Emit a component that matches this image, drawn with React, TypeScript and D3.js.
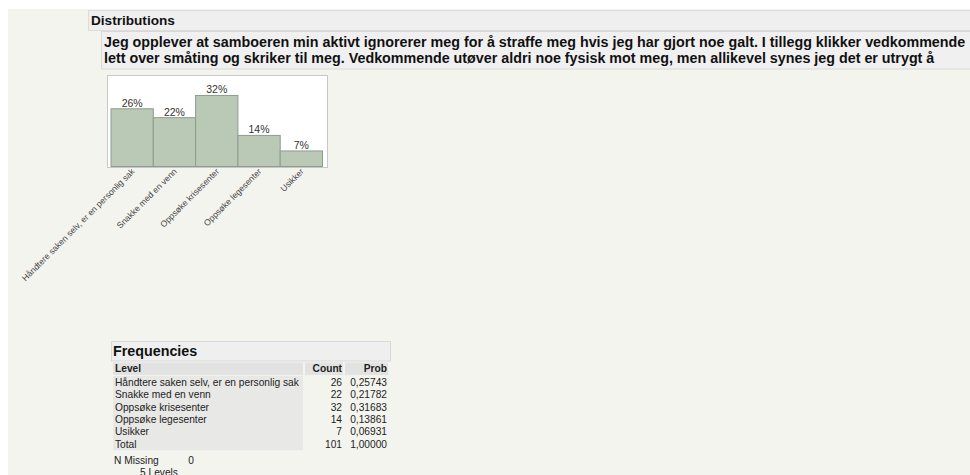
import React, { useEffect, useRef } from 'react';
import * as d3 from 'd3';

const levels = [
  'Håndtere saken selv, er en personlig sak',
  'Snakke med en venn',
  'Oppsøke krisesenter',
  'Oppsøke legesenter',
  'Usikker',
];
const counts = [26, 22, 32, 14, 7];
const probs = ['0,25743', '0,21782', '0,31683', '0,13861', '0,06931'];
const total = 101;

const title = 'Distributions';
const questionLines = [
  'Jeg opplever at samboeren min aktivt ignorerer meg for å straffe meg hvis jeg har gjort noe galt. I tillegg klikker vedkommende',
  'lett over småting og skriker til meg. Vedkommende utøver aldri noe fysisk mot meg, men allikevel synes jeg det er utrygt å',
];

const FONT = '"Liberation Sans", Arial, Helvetica, sans-serif';

const App: React.FC = () => {
  const svgRef = useRef<SVGSVGElement>(null);

  useEffect(() => {
    if (!svgRef.current) return;
    const width = 970;
    const height = 475;
    const svg = d3.select(svgRef.current);
    svg.selectAll('*').remove();

    svg.append('rect').attr('width', width).attr('height', height).attr('fill', '#ffffff');
    // report panel
    svg.append('rect').attr('x', 8).attr('y', 9).attr('width', width - 8).attr('height', height - 9).attr('fill', '#f4f4ef');

    // "Distributions" header bar
    svg.append('rect').attr('x', 88.5).attr('y', 10.5).attr('width', width - 88).attr('height', 20)
      .attr('fill', '#efefef').attr('stroke', '#dcdcdc');
    svg.append('text').attr('x', 91).attr('y', 25).attr('font-family', FONT).attr('font-size', 13.6)
      .attr('font-weight', 'bold').attr('fill', '#111').text(title);

    // question box
    svg.append('rect').attr('x', 101.5).attr('y', 31.5).attr('width', width - 101).attr('height', 37.5)
      .attr('fill', '#f0f0f0').attr('stroke', '#d8d8d8');
    questionLines.forEach((ln, i) => {
      svg.append('text').attr('x', 104).attr('y', 47 + i * 16).attr('font-family', FONT).attr('font-size', 14.3)
        .attr('font-weight', 'bold').attr('fill', '#111').text(ln);
    });

    // bar chart
    const frame = { x: 107, y: 75, w: 220, h: 92 };
    svg.append('rect').attr('x', frame.x + 0.5).attr('y', frame.y + 0.5).attr('width', frame.w).attr('height', frame.h)
      .attr('fill', '#ffffff').attr('stroke', '#c8c8c8');

    const probVals = counts.map(c => c / total);
    const x = d3.scaleBand<string>().domain(levels).range([111, 322.5]).padding(0);
    const y = d3.scaleLinear().domain([0, 0.408]).range([166.5, 75]);

    const g = svg.append('g');
    levels.forEach((lv, i) => {
      const x0 = x(lv)!;
      g.append('rect').attr('x', x0).attr('y', y(probVals[i])).attr('width', x.bandwidth())
        .attr('height', y(0) - y(probVals[i])).attr('fill', '#b9c9b6').attr('stroke', '#8e9c8c').attr('stroke-width', 1);
      g.append('text').attr('x', x0 + x.bandwidth() / 2).attr('y', y(probVals[i]) - 2)
        .attr('text-anchor', 'middle').attr('font-family', FONT).attr('font-size', 10.5).attr('fill', '#333')
        .text(Math.round(probVals[i] * 100) + '%');
      g.append('text')
        .attr('transform', `translate(${x0 + x.bandwidth() / 2 + 3},${172}) rotate(-45)`)
        .attr('text-anchor', 'end').attr('font-family', FONT).attr('font-size', 8.6).attr('fill', '#444')
        .text(lv);
    });

    // Frequencies table
    svg.append('rect').attr('x', 111.5).attr('y', 341.5).attr('width', 279).attr('height', 19.5)
      .attr('fill', '#efefef').attr('stroke', '#d8d8d8');
    svg.append('text').attr('x', 113).attr('y', 356).attr('font-family', FONT).attr('font-size', 14.3)
      .attr('font-weight', 'bold').attr('fill', '#111').text('Frequencies');

    const colLevel = { x: 113, w: 190 };
    const colCount = { x: 305, w: 38 };
    const colProb = { x: 345, w: 43 };
    const rowH = 12.4;
    const top = 362.5;

    // header cells
    [colLevel, colCount, colProb].forEach(c => {
      svg.append('rect').attr('x', c.x).attr('y', top).attr('width', c.w).attr('height', rowH).attr('fill', '#e2e2e2');
    });
    // level column background for data rows
    svg.append('rect').attr('x', colLevel.x).attr('y', top + rowH + 1).attr('width', colLevel.w)
      .attr('height', rowH * (levels.length + 1)).attr('fill', '#e8e8e6');

    const tfont = (sel: any, bold = false) =>
      sel.attr('font-family', FONT).attr('font-size', 10.2).attr('fill', '#222').attr('font-weight', bold ? 'bold' : 'normal');

    tfont(svg.append('text').attr('x', colLevel.x + 2).attr('y', top + 9.5).text('Level'), true);
    tfont(svg.append('text').attr('x', colCount.x + colCount.w - 1).attr('y', top + 9.5).attr('text-anchor', 'end').text('Count'), true);
    tfont(svg.append('text').attr('x', colProb.x + colProb.w - 1).attr('y', top + 9.5).attr('text-anchor', 'end').text('Prob'), true);

    const rows = levels.map((lv, i) => ({ lv, c: String(counts[i]), p: probs[i] }));
    rows.push({ lv: 'Total', c: String(total), p: '1,00000' });
    rows.forEach((r, i) => {
      const yy = top + rowH + 1 + (i + 1) * rowH - 2.6;
      tfont(svg.append('text').attr('x', colLevel.x + 2).attr('y', yy).text(r.lv));
      tfont(svg.append('text').attr('x', colCount.x + colCount.w - 1).attr('y', yy).attr('text-anchor', 'end').text(r.c));
      tfont(svg.append('text').attr('x', colProb.x + colProb.w - 1).attr('y', yy).attr('text-anchor', 'end').text(r.p));
    });
    const yMiss = 464;
    tfont(svg.append('text').attr('x', 114).attr('y', yMiss).text('N Missing'));
    tfont(svg.append('text').attr('x', 191).attr('y', yMiss).attr('text-anchor', 'middle').text('0'));
    tfont(svg.append('text').attr('x', 140).attr('y', yMiss + 12.4).text(levels.length + ' Levels'));
  }, []);

  return (
    <svg ref={svgRef} width={970} height={475} viewBox="0 0 970 475"
      style={{ position: 'absolute', left: 0, top: 0, display: 'block' }} />
  );
};

export default App;
